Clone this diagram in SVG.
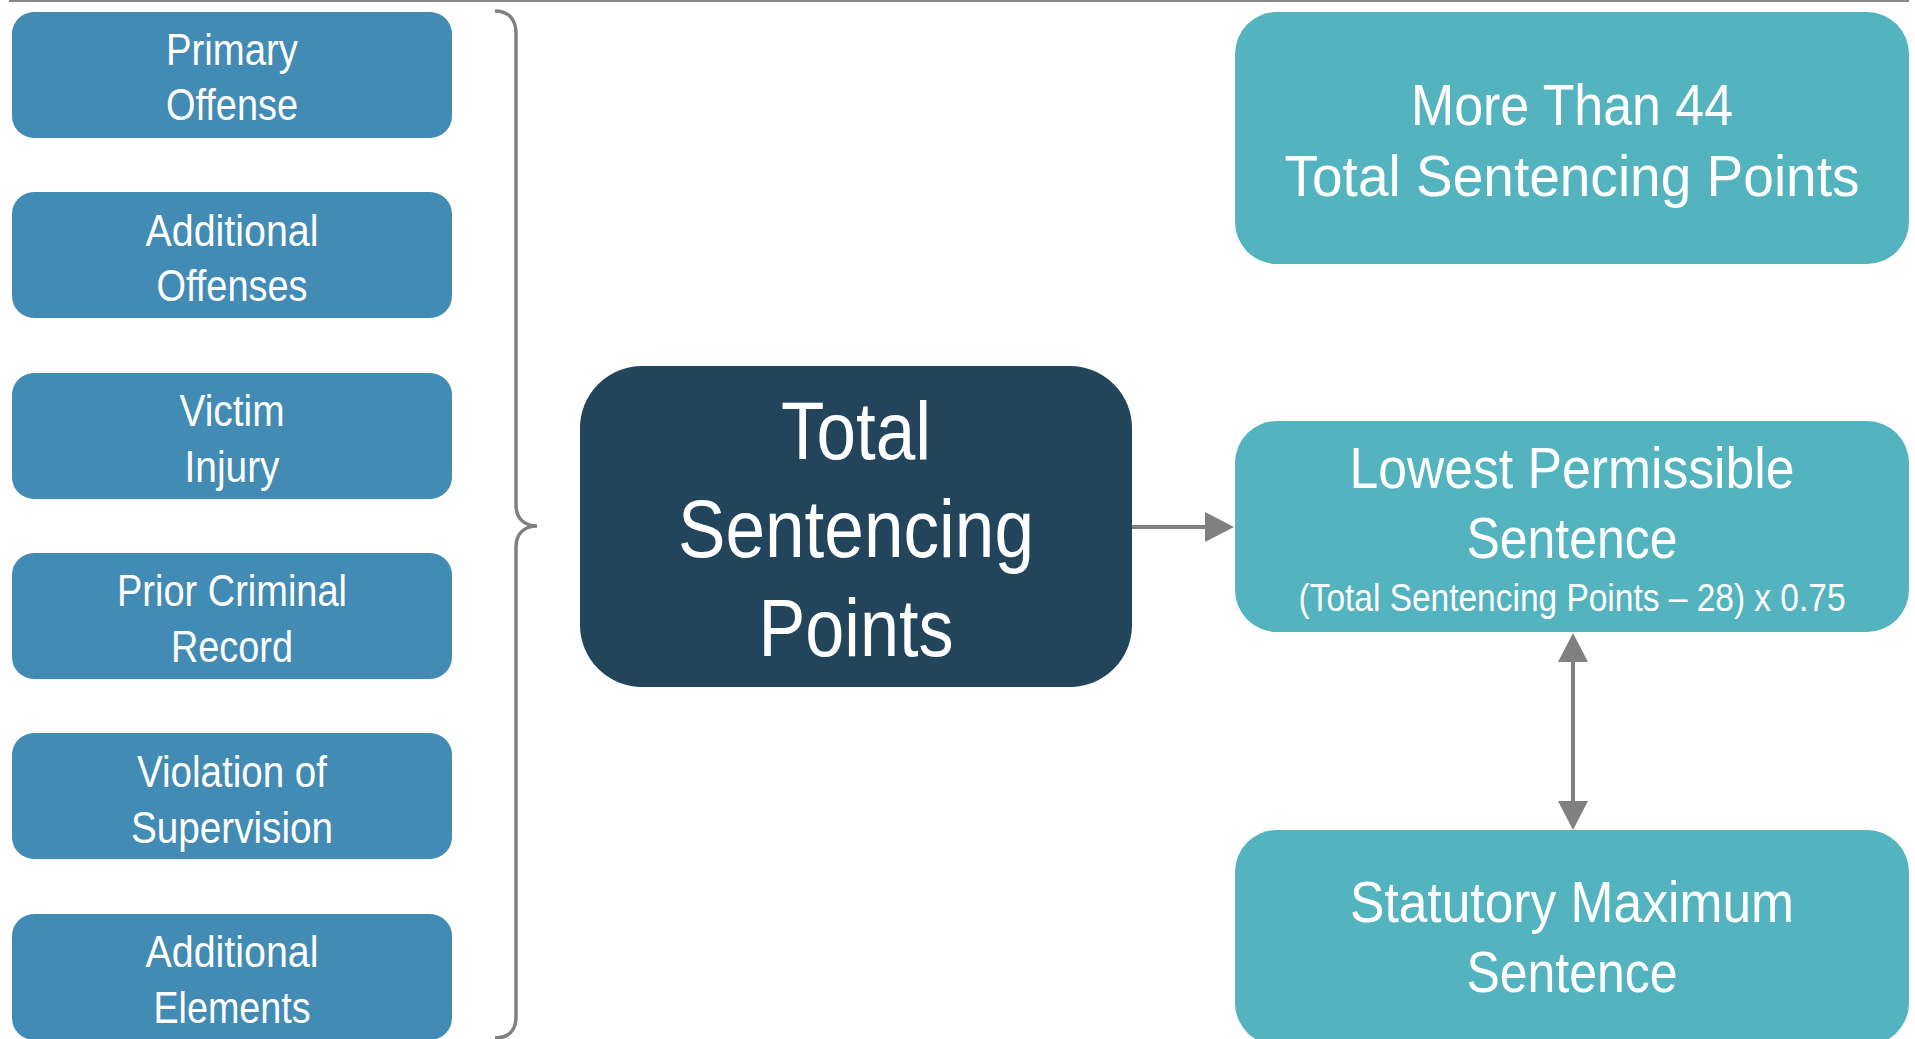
<svg xmlns="http://www.w3.org/2000/svg" width="1915" height="1039" viewBox="0 0 1915 1039">
<style>
  .lbox { fill: #428bb5; }
  .rbox { fill: #53b3bf; }
  .cbox { fill: #22455b; }
  text { font-family: "Liberation Sans Narrow", "Liberation Sans", Arial, sans-serif; fill: #ffffff; text-anchor: middle; }
  .lt { font-size: 45px; }
  .ct { font-size: 81px; }
  .rt { font-size: 58px; }
  .ft { font-size: 39px; }
  .conn { stroke: #808080; fill: none; }
</style>
<defs>
  <marker id="ah" markerUnits="userSpaceOnUse" markerWidth="30" markerHeight="30" viewBox="0 0 29 30" refX="0" refY="15" orient="auto-start-reverse">
    <path d="M0,0 L29,15 L0,30 z" fill="#808080"/>
  </marker>
</defs>
<rect width="1915" height="1039" fill="#ffffff"/>
<line x1="9" y1="1" x2="1909" y2="1" stroke="#888888" stroke-width="2"/>

<g id="primary-offense">
  <rect class="lbox" x="12" y="12" width="440" height="126" rx="22"/>
  <text class="lt" x="232" y="65" textLength="132" lengthAdjust="spacingAndGlyphs">Primary</text>
  <text class="lt" x="232" y="120" textLength="132" lengthAdjust="spacingAndGlyphs">Offense</text>
</g>
<g id="additional-offenses">
  <rect class="lbox" x="12" y="192" width="440" height="126" rx="22"/>
  <text class="lt" x="232" y="246" textLength="173" lengthAdjust="spacingAndGlyphs">Additional</text>
  <text class="lt" x="232" y="301" textLength="151" lengthAdjust="spacingAndGlyphs">Offenses</text>
</g>
<g id="victim-injury">
  <rect class="lbox" x="12" y="373" width="440" height="126" rx="22"/>
  <text class="lt" x="232" y="426" textLength="105" lengthAdjust="spacingAndGlyphs">Victim</text>
  <text class="lt" x="232" y="482" textLength="95" lengthAdjust="spacingAndGlyphs">Injury</text>
</g>
<g id="prior-criminal-record">
  <rect class="lbox" x="12" y="553" width="440" height="126" rx="22"/>
  <text class="lt" x="232" y="606" textLength="230" lengthAdjust="spacingAndGlyphs">Prior Criminal</text>
  <text class="lt" x="232" y="662" textLength="122" lengthAdjust="spacingAndGlyphs">Record</text>
</g>
<g id="violation-of-supervision">
  <rect class="lbox" x="12" y="733" width="440" height="126" rx="22"/>
  <text class="lt" x="232" y="787" textLength="190" lengthAdjust="spacingAndGlyphs">Violation of</text>
  <text class="lt" x="232" y="843" textLength="202" lengthAdjust="spacingAndGlyphs">Supervision</text>
</g>
<g id="additional-elements">
  <rect class="lbox" x="12" y="914" width="440" height="126" rx="22"/>
  <text class="lt" x="232" y="967" textLength="173" lengthAdjust="spacingAndGlyphs">Additional</text>
  <text class="lt" x="232" y="1023" textLength="157" lengthAdjust="spacingAndGlyphs">Elements</text>
</g>

<g id="total-sentencing-points">
  <rect class="cbox" x="580" y="366" width="552" height="321" rx="62"/>
  <text class="ct" x="856" y="459" textLength="150" lengthAdjust="spacingAndGlyphs">Total</text>
  <text class="ct" x="856" y="557" textLength="356" lengthAdjust="spacingAndGlyphs">Sentencing</text>
  <text class="ct" x="856" y="656" textLength="195" lengthAdjust="spacingAndGlyphs">Points</text>
</g>

<g id="more-than-44">
  <rect class="rbox" x="1235" y="12" width="674" height="252" rx="42"/>
  <text class="rt" x="1572" y="125" textLength="322" lengthAdjust="spacingAndGlyphs">More Than 44</text>
  <text class="rt" x="1572" y="196" textLength="575" lengthAdjust="spacingAndGlyphs">Total Sentencing Points</text>
</g>
<g id="lowest-permissible-sentence">
  <rect class="rbox" x="1235" y="421" width="674" height="211" rx="42"/>
  <text class="rt" x="1572" y="488" textLength="445" lengthAdjust="spacingAndGlyphs">Lowest Permissible</text>
  <text class="rt" x="1572" y="558" textLength="211" lengthAdjust="spacingAndGlyphs">Sentence</text>
  <text class="ft" x="1572" y="611" textLength="547" lengthAdjust="spacingAndGlyphs">(Total Sentencing Points – 28) x 0.75</text>
</g>
<g id="statutory-maximum-sentence">
  <rect class="rbox" x="1235" y="830" width="674" height="215" rx="42"/>
  <text class="rt" x="1572" y="922" textLength="444" lengthAdjust="spacingAndGlyphs">Statutory Maximum</text>
  <text class="rt" x="1572" y="992" textLength="211" lengthAdjust="spacingAndGlyphs">Sentence</text>
</g>

<g id="connectors">
  <path class="conn" stroke-width="3.5" d="M495,11 C509,11 516,20 516,33 L516,505 C516,518 524,526 537,526 C524,526 516,534 516,547 L516,1017 C516,1030 509,1038 495,1038"/>
  <line class="conn" x1="1132" y1="527" x2="1205" y2="527" stroke-width="4" marker-end="url(#ah)"/>
  <line class="conn" x1="1573" y1="662" x2="1573" y2="801" stroke-width="4" marker-start="url(#ah)" marker-end="url(#ah)"/>
</g>
</svg>
